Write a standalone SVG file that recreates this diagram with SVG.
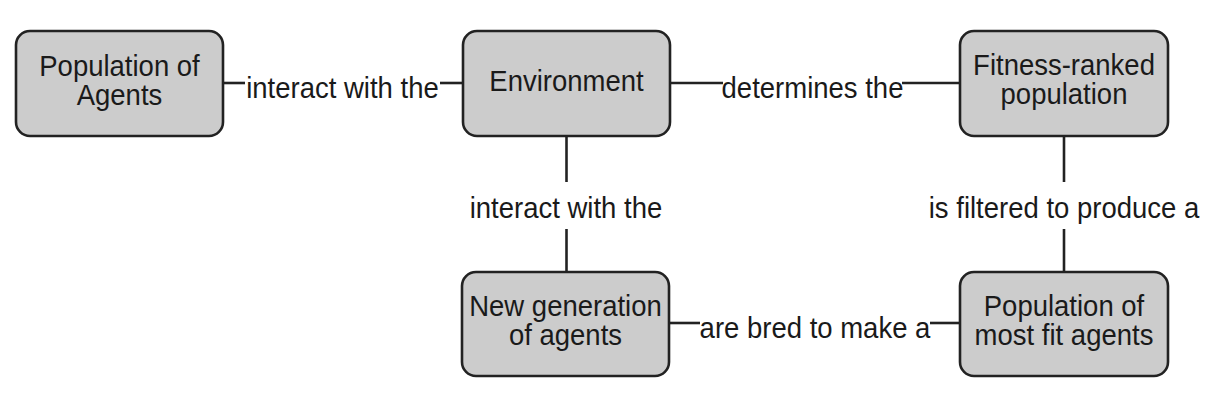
<svg xmlns="http://www.w3.org/2000/svg" width="1232" height="406" viewBox="0 0 1232 406">
<style>
.box{fill:#cccccc;stroke:#222222;stroke-width:2.6}
.t{font-family:"Liberation Sans",Arial,Helvetica,sans-serif;font-size:27.5px;fill:#1a1a1a;text-anchor:middle}
.c{stroke:#222222;stroke-width:2.6;fill:none}
</style>
<rect width="1232" height="406" fill="#ffffff"/>
<g id="connectors">
<line class="c" x1="223" y1="83" x2="245" y2="83"/>
<line class="c" x1="440" y1="83" x2="463" y2="83"/>
<text class="t" transform="translate(342.5 98) scale(1 1.06)">interact with the</text>
<line class="c" x1="670" y1="83" x2="723" y2="83"/>
<line class="c" x1="902" y1="83" x2="960" y2="83"/>
<text class="t" transform="translate(812.5 98) scale(1 1.06)">determines the</text>
<line class="c" x1="566.5" y1="136" x2="566.5" y2="182"/>
<line class="c" x1="566.5" y1="229" x2="566.5" y2="272"/>
<text class="t" transform="translate(566 218) scale(1 1.06)">interact with the</text>
<line class="c" x1="1064" y1="136" x2="1064" y2="182"/>
<line class="c" x1="1064" y1="229" x2="1064" y2="272"/>
<text class="t" transform="translate(1064 218) scale(1 1.06)">is filtered to produce a</text>
<line class="c" x1="669" y1="323" x2="700" y2="323"/>
<line class="c" x1="930" y1="323" x2="960" y2="323"/>
<text class="t" transform="translate(815 338) scale(1 1.06)">are bred to make a</text>
</g>
<g id="population-of-agents">
<rect class="box" x="16" y="31" width="207" height="105" rx="14"/>
<text class="t" transform="translate(119.5 76) scale(1 1.06)">Population of</text>
<text class="t" transform="translate(119.5 105) scale(1 1.06)">Agents</text>
</g>
<g id="environment">
<rect class="box" x="463" y="31" width="207" height="105" rx="14"/>
<text class="t" transform="translate(566.5 91) scale(1 1.06)">Environment</text>
</g>
<g id="fitness-ranked-population">
<rect class="box" x="960" y="31" width="208" height="105" rx="14"/>
<text class="t" transform="translate(1064 75) scale(1 1.06)">Fitness-ranked</text>
<text class="t" transform="translate(1064 104) scale(1 1.06)">population</text>
</g>
<g id="new-generation">
<rect class="box" x="462" y="272" width="207" height="104" rx="14"/>
<text class="t" transform="translate(565.5 316) scale(1 1.06)">New generation</text>
<text class="t" transform="translate(565.5 345) scale(1 1.06)">of agents</text>
</g>
<g id="most-fit-population">
<rect class="box" x="960" y="272" width="208" height="104" rx="14"/>
<text class="t" transform="translate(1064 316) scale(1 1.06)">Population of</text>
<text class="t" transform="translate(1064 345) scale(1 1.06)">most fit agents</text>
</g>
</svg>
